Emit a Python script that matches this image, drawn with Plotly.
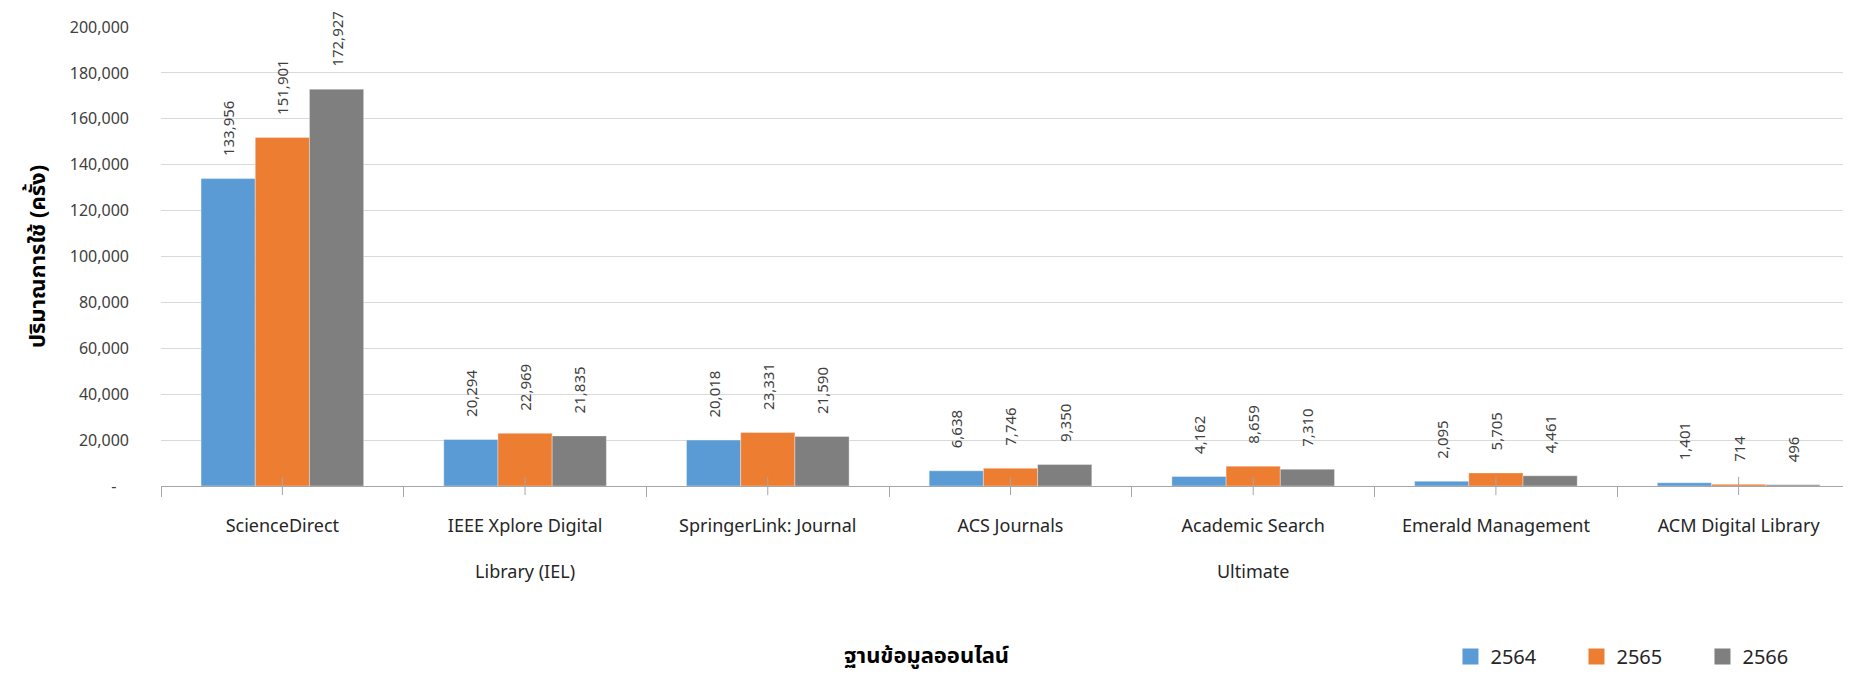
import plotly.graph_objects as go

categories = ["ScienceDirect", "IEEE Xplore Digital<br> <br>Library (IEL)", "SpringerLink: Journal",
              "ACS Journals", "Academic Search<br> <br>Ultimate", "Emerald Management", "ACM Digital Library"]
years = ["2564", "2565", "2566"]
v2564 = [133956, 20294, 20018, 6638, 4162, 2095, 1401]
v2565 = [151901, 22969, 23331, 7746, 8659, 5705, 714]
v2566 = [172927, 21835, 21590, 9350, 7310, 4461, 496]
colors = ["#5B9BD5", "#ED7D31", "#7F7F7F"]
y_tickvals = [0, 20000, 40000, 60000, 80000, 100000, 120000, 140000, 160000, 180000, 200000]
y_ticktext = ["-\u00a0\u00a0\u00a0", "20,000", "40,000", "60,000", "80,000", "100,000", "120,000",
              "140,000", "160,000", "180,000", "200,000"]

FONT = "Noto Sans, Noto Sans Thai, Leelawadee UI, sans-serif"
pad = "\u00a0" * 5

fig = go.Figure()
for name, vals, col in zip(years, [v2564, v2565, v2566], colors):
    fig.add_trace(go.Bar(
        x=categories, y=vals, name=name, showlegend=False,
        marker=dict(color=col, line=dict(color="rgba(255,255,255,0.6)", width=0.6)),
        text=[pad + f"{v:,}" for v in vals], textposition="outside", textangle=-90,
        constraintext="none", cliponaxis=False,
        textfont=dict(family=FONT, size=15, color="#404040"),
        hoverinfo="x+y",
    ))

# legend entries (square swatches)
for name, col in zip(years, colors):
    fig.add_trace(go.Scatter(
        x=[None], y=[None], mode="markers", name=name,
        marker=dict(symbol="square", size=16, color=col),
        showlegend=True, hoverinfo="skip",
    ))

# center tick marks crossing the axis
fig.add_trace(go.Scatter(
    x=categories, y=[0] * len(categories), mode="markers",
    marker=dict(symbol="line-ns", size=13, line=dict(color="#A6A6A6", width=1)),
    showlegend=False, hoverinfo="skip", cliponaxis=False,
))

fig.update_layout(
    width=1843, height=668,
    margin=dict(l=153, r=0, t=19, b=189),
    paper_bgcolor="white", plot_bgcolor="white",
    barmode="group", bargap=0.33, bargroupgap=0,
    font=dict(family=FONT, color="#404040"),
    showlegend=True,
    legend=dict(orientation="h", x=0.763, y=-0.372, xanchor="left", yanchor="middle",
                entrywidth=81, entrywidthmode="pixels", traceorder="normal",
                font=dict(family=FONT, size=20, color="#262626")),
    xaxis=dict(
        type="category", tickson="boundaries", ticks="outside", ticklen=10,
        tickcolor="#A6A6A6", showline=True, linecolor="#A6A6A6", linewidth=1,
        showgrid=False, tickfont=dict(family=FONT, size=18, color="#262626"),
        ticklabelstandoff=23, range=[-0.5, 6.463],
    ),
    yaxis=dict(
        range=[0, 200000], tickvals=y_tickvals, ticktext=y_ticktext,
        showgrid=True, gridcolor="#D9D9D9", gridwidth=1, zeroline=False,
        showline=False, ticks="", ticklabelstandoff=31,
        tickfont=dict(family=FONT, size=16, color="#404040"),
        title=dict(text="<b>ปริมาณการใช้ (ครั้ง)</b>", standoff=18,
                   font=dict(family=FONT, size=22, color="#000000")),
    ),
    annotations=[dict(
        text="<b>ฐานข้อมูลออนไลน์</b>", xref="paper", yref="paper",
        x=0.453, y=-0.365, xanchor="center", yanchor="middle", showarrow=False,
        font=dict(family=FONT, size=22, color="#000000"),
    )],
)

fig.write_html("out.html")
